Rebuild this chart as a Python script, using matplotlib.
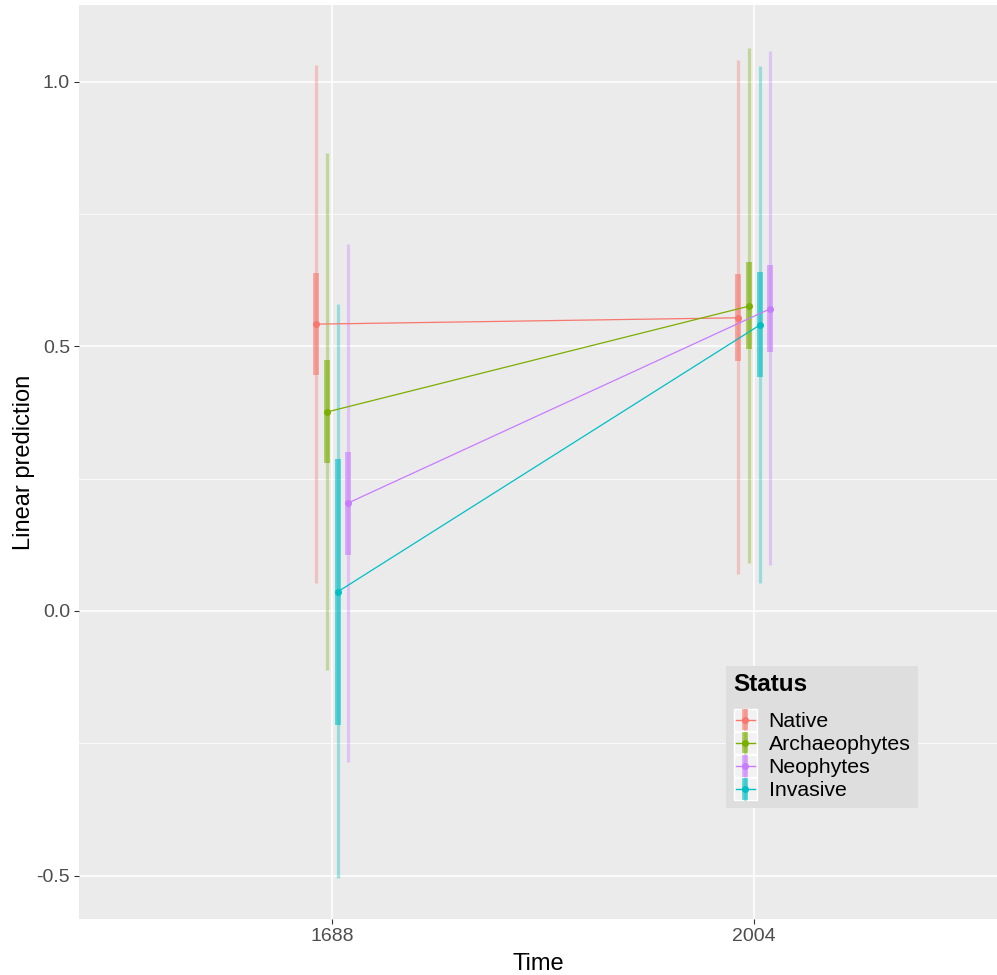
import matplotlib.pyplot as plt
from matplotlib.lines import Line2D
from matplotlib.patches import Rectangle
from matplotlib.legend_handler import HandlerBase
import numpy as np

plt.rcParams['font.family'] = ['Liberation Sans', 'DejaVu Sans']

# data
years = ["1688", "2004"]
status = ["Native", "Archaeophytes", "Neophytes", "Invasive"]
colors = ["#F8766D", "#7CAE00", "#C77CFF", "#00BFC4"]
# dodge order at each year (Native, Archaeophytes, Invasive, Neophytes)
dodge_rank = [0, 1, 3, 2]

est = {
    "Native":        [0.542, 0.554],
    "Archaeophytes": [0.376, 0.576],
    "Neophytes":     [0.204, 0.571],
    "Invasive":      [0.036, 0.540],
}
lo_outer = {
    "Native":        [0.053, 0.070],
    "Archaeophytes": [-0.111, 0.091],
    "Neophytes":     [-0.285, 0.087],
    "Invasive":      [-0.504, 0.053],
}
hi_outer = {
    "Native":        [1.032, 1.041],
    "Archaeophytes": [0.865, 1.064],
    "Neophytes":     [0.693, 1.058],
    "Invasive":      [0.580, 1.030],
}
lo_inner = {
    "Native":        [0.446, 0.472],
    "Archaeophytes": [0.280, 0.495],
    "Neophytes":     [0.106, 0.489],
    "Invasive":      [-0.215, 0.442],
}
hi_inner = {
    "Native":        [0.639, 0.637],
    "Archaeophytes": [0.474, 0.659],
    "Neophytes":     [0.300, 0.654],
    "Invasive":      [0.287, 0.640],
}


class KeyHandler(HandlerBase):
    # ggplot-like key: grey box, errorbars, line and point
    def create_artists(self, legend, orig_handle, xdescent, ydescent, width, height, fontsize, trans):
        c = orig_handle.get_color()
        x0, y0 = -xdescent, -ydescent
        xm, ym = x0 + width/2, y0 + height/2
        box = Rectangle((x0, y0), width, height, facecolor='#F2F2F2', edgecolor='white', lw=1, transform=trans)
        thin = Line2D([xm, xm], [y0 + 0.05*height, y0 + 0.95*height], color=c, lw=2.3, alpha=0.35, transform=trans)
        thick = Line2D([xm, xm], [y0 + 0.15*height, y0 + 0.85*height], color=c, lw=4.2, alpha=0.6, transform=trans)
        hl = Line2D([x0 + 0.1*width, x0 + 0.9*width], [ym, ym], color=c, lw=1, transform=trans)
        pt = Line2D([xm], [ym], color=c, marker='o', markersize=4, transform=trans)
        return [box, thin, thick, hl, pt]


fig = plt.figure(figsize=(9.97, 9.75), dpi=100)
ax = fig.add_axes([79/997, (975-919)/975, (997-79)/997, 914/975])
ax.set_facecolor("#EBEBEB")

xbase = np.arange(1, len(years) + 1)
dw = 0.1
handles = []
for i, s in enumerate(status):
    off = -dw/2 + dw/8 + dodge_rank[i]*dw/4
    xs = xbase + off
    c = colors[i]
    ax.vlines(xs, lo_outer[s], hi_outer[s], color=c, lw=2.3, alpha=0.35, zorder=3)
    ax.vlines(xs, lo_inner[s], hi_inner[s], color=c, lw=4.2, alpha=0.6, zorder=4)
    ax.plot(xs, est[s], color=c, lw=0.9, marker='o', markersize=4, zorder=5)
    handles.append(Line2D([], [], color=c))

ax.set_xlim(0.4, 2.575)
ax.set_ylim(-0.582, 1.145)
ax.set_xticks(xbase)
ax.set_xticklabels(years)
ax.set_yticks([-0.5, 0.0, 0.5, 1.0])
ax.set_yticklabels(["-0.5", "0.0", "0.5", "1.0"])
ax.set_yticks([-0.25, 0.25, 0.75], minor=True)
ax.grid(which='major', color='white', lw=1.1)
ax.grid(which='minor', axis='y', color='white', lw=0.55)
ax.set_axisbelow(True)
for sp in ax.spines.values():
    sp.set_visible(False)
ax.tick_params(axis='both', which='major', length=3.5, width=0.8, color='#333333',
               labelsize=14, labelcolor='#4D4D4D', pad=3)
ax.tick_params(which='minor', length=0)
ax.set_xlabel("Time", fontsize=17, labelpad=6)
ax.set_ylabel("Linear prediction", fontsize=17, labelpad=1)

leg = ax.legend(handles, status, handler_map={Line2D: KeyHandler()},
                title="Status", loc='upper left', bbox_to_anchor=(0.705, 0.277),
                borderaxespad=0, fontsize=15.3, title_fontproperties={'weight': 'bold', 'size': 17.5},
                frameon=True, fancybox=False, facecolor='#DEDEDE', edgecolor='none',
                framealpha=1, handlelength=1.1, handleheight=1.2, handletextpad=0.55,
                labelspacing=0.05, borderpad=0.35)
leg._legend_box.align = "left"
leg._legend_box.sep = 9

fig.savefig("out.png", dpi=100)
